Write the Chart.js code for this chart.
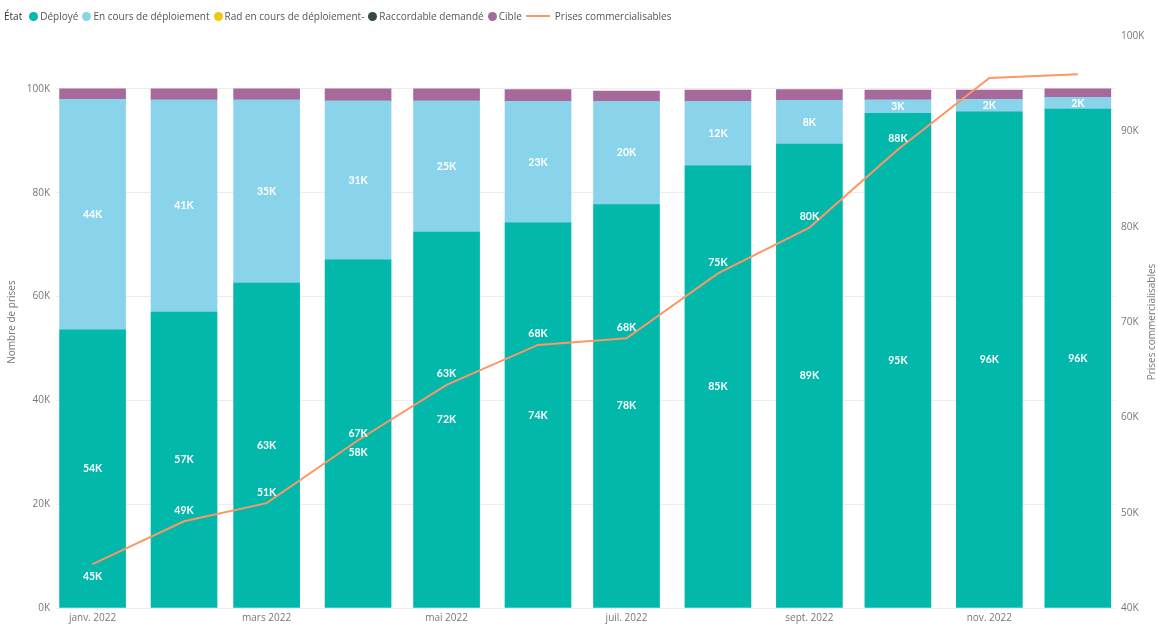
<!DOCTYPE html>
<html lang="fr">
<head>
  <meta charset="UTF-8">
  <title>Prises commercialisables 2022</title>
  <script src="https://cdn.jsdelivr.net/npm/chart.js"></script>
  <style>
    body { margin: 0; background: #fff; font-family: 'Open Sans', sans-serif; }
    .wrap { position: relative; width: 1158px; height: 625px; }
    #legend { position: absolute; top: 9px; left: 4px; font-size: 10px; color: #555; display: flex; align-items: center; white-space: nowrap; }
    #legend .titre { color: #333; margin-right: 7px; }
    #legend .item { display: flex; align-items: center; margin-right: 4px; }
    #legend .dot { width: 9px; height: 9px; border-radius: 50%; margin-right: 2px; }
    #legend .ligne { width: 24px; height: 2px; margin-right: 5px; }
  </style>
</head>
<body>
  <div class="wrap">
    <div id="legend"></div>
    <canvas id="chart" width="1158" height="625"></canvas>
  </div>

  <script>
    // mois (1er du mois) — l'axe est continu, donc espacement selon les jours
    const mois = ['2022-01-01', '2022-02-01', '2022-03-01', '2022-04-01', '2022-05-01', '2022-06-01',
                  '2022-07-01', '2022-08-01', '2022-09-01', '2022-10-01', '2022-11-01', '2022-12-01'];
    const tickMois = ['2022-01-01', '2022-03-01', '2022-05-01', '2022-07-01', '2022-09-01', '2022-11-01'];
    const tickLabels = ['janv. 2022', 'mars 2022', 'mai 2022', 'juil. 2022', 'sept. 2022', 'nov. 2022'];
    const ticksGauche = [0, 20000, 40000, 60000, 80000, 100000];
    const ticksDroite = [40000, 50000, 60000, 70000, 80000, 90000, 100000];

    const deploye     = [53600, 57000, 62600, 67100, 72400, 74200, 77700, 85200, 89400, 95300, 95600, 96100];
    const enCours     = [44400, 40900, 35300, 30600, 25300, 23400, 19900, 12400, 8400, 2600, 2400, 2300];
    const radEnCours  = [0, 0, 0, 0, 0, 0, 0, 0, 0, 0, 0, 0];
    const raccordable = [0, 0, 0, 0, 0, 0, 0, 0, 0, 0, 0, 0];
    const cible       = [2000, 2100, 2100, 2300, 2300, 2300, 2000, 2200, 2100, 1900, 1800, 1600];
    const prisesCommercialisables = [44600, 49100, 51000, 57600, 63400, 67600, 68300, 75100, 79900, 88100, 95600, 96000];

    // placement des étiquettes de la courbe (null = masquée)
    const posEtiquettesLigne = ['below', 'above', 'above', 'below', 'above', 'above', 'above', 'above', 'above', 'above', null, null];

    const dayOf = s => (Date.parse(s) - Date.parse('2022-01-01')) / 86400000;
    // les valeurs nulles ne sont pas dessinées (pas de trait fantôme)
    const toPoints = arr => arr.map((v, i) => ({ x: dayOf(mois[i]), y: v === 0 ? null : v }));
    const fmtK = v => Math.round(v / 1000) + 'K';

    const series = [
      { label: 'Déployé', data: deploye, color: '#01B8AA', labels: true },
      { label: 'En cours de déploiement', data: enCours, color: '#8AD4EB', labels: true },
      { label: 'Rad en cours de déploiement-', data: radEnCours, color: '#F2C80F', labels: false },
      { label: 'Raccordable demandé', data: raccordable, color: '#374649', labels: false },
      { label: 'Cible', data: cible, color: '#A66999', labels: false }
    ];
    const lineColor = '#FE9666';

    // légende HTML
    const legend = document.getElementById('legend');
    legend.innerHTML = '<span class="titre">État</span>' +
      series.map(s => `<span class="item"><span class="dot" style="background:${s.color}"></span>${s.label}</span>`).join('') +
      `<span class="item"><span class="ligne" style="background:${lineColor}"></span>Prises commercialisables</span>`;

    const datasets = series.map(s => ({
      type: 'bar',
      label: s.label,
      data: toPoints(s.data),
      backgroundColor: s.color,
      borderWidth: 0,
      barThickness: 66,
      yAxisID: 'y',
      order: 2,
      showLabels: s.labels
    }));
    datasets.push({
      type: 'line',
      label: 'Prises commercialisables',
      data: toPoints(prisesCommercialisables),
      borderColor: lineColor,
      borderWidth: 2,
      pointRadius: 0,
      tension: 0,
      fill: false,
      yAxisID: 'y1',
      order: 0,
      isLine: true
    });

    const dataLabels = {
      id: 'dataLabels',
      afterDatasetsDraw(chart) {
        const ctx = chart.ctx;
        ctx.save();
        ctx.font = 'bold 10.5px Lato, sans-serif';
        ctx.fillStyle = '#ffffff';
        ctx.textAlign = 'center';
        ctx.textBaseline = 'middle';
        chart.data.datasets.forEach((ds, di) => {
          const meta = chart.getDatasetMeta(di);
          if (ds.showLabels) {
            meta.data.forEach((el, i) => {
              const v = ds.data[i].y;
              if (!v) return;
              ctx.fillText(fmtK(v), el.x, (el.y + el.base) / 2);
            });
          }
          if (ds.isLine) {
            meta.data.forEach((el, i) => {
              const pos = posEtiquettesLigne[i];
              if (!pos) return;
              const dy = pos === 'above' ? -11 : 12;
              ctx.fillText(fmtK(ds.data[i].y), el.x, el.y + dy);
            });
          }
        });
        ctx.restore();
      }
    };

    const axisTitles = {
      id: 'axisTitles',
      afterDraw(chart) {
        const ctx = chart.ctx;
        const a = chart.chartArea;
        const cy = (a.top + a.bottom) / 2;
        ctx.save();
        ctx.font = '10px "Open Sans", sans-serif';
        ctx.fillStyle = '#777';
        ctx.textAlign = 'center';
        ctx.textBaseline = 'middle';
        [[12, 'Nombre de prises'], [1152, 'Prises commercialisables']].forEach(([x, t]) => {
          ctx.save();
          ctx.translate(x, cy);
          ctx.rotate(-Math.PI / 2);
          ctx.fillText(t, 0, 0);
          ctx.restore();
        });
        ctx.restore();
      }
    };

    const tickFont = { family: 'Open Sans', size: 10 };

    new Chart(document.getElementById('chart'), {
      type: 'bar',
      data: { datasets },
      plugins: [dataLabels, axisTitles],
      options: {
        responsive: false,
        animation: false,
        layout: { padding: { top: 36, left: 0, right: 0, bottom: 0 } },
        plugins: { legend: { display: false }, tooltip: { enabled: false } },
        scales: {
          x: {
            type: 'linear',
            stacked: true,
            offset: false,
            min: -12.4,
            max: 346.6,
            grid: { display: false, offset: false, drawTicks: false },
            border: { display: false },
            afterBuildTicks: scale => { scale.ticks = tickMois.map(d => ({ value: dayOf(d) })); },
            afterFit: scale => { scale.height = 17; },
            ticks: {
              font: tickFont,
              color: '#777',
              padding: 4,
              maxRotation: 0,
              autoSkip: false,
              callback: (v, i) => tickLabels[i]
            }
          },
          y: {
            position: 'left',
            stacked: true,
            min: 0,
            max: 110200,
            afterBuildTicks: scale => { scale.ticks = ticksGauche.map(v => ({ value: v })); },
            afterFit: scale => { scale.width = 56; },
            grid: { color: '#ececec', drawTicks: false },
            border: { display: false },
            ticks: {
              font: tickFont,
              color: '#777',
              padding: 6,
              callback: v => (v / 1000) + 'K'
            }
          },
          y1: {
            position: 'right',
            min: 40000,
            max: 100000,
            afterBuildTicks: scale => { scale.ticks = ticksDroite.map(v => ({ value: v })); },
            afterFit: scale => { scale.width = 43; },
            grid: { display: false, drawTicks: false },
            border: { display: false },
            ticks: {
              font: tickFont,
              color: '#777',
              padding: 6,
              callback: v => (v / 1000) + 'K'
            }
          }
        }
      }
    });
  </script>
</body>
</html>
